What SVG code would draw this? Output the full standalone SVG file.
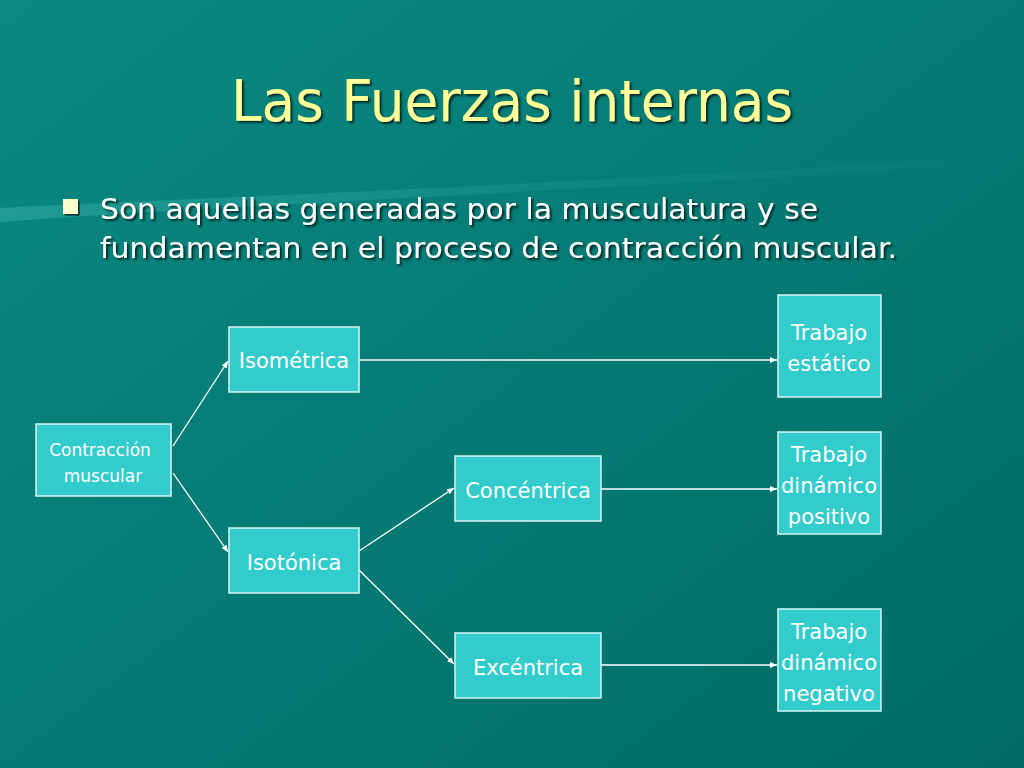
<svg xmlns="http://www.w3.org/2000/svg" width="1024" height="768" viewBox="0 0 1024 768">
<defs>
<linearGradient id="bg" x1="0" y1="0" x2="1" y2="1"><stop offset="0" stop-color="#0a8a82"/><stop offset="1" stop-color="#006b66"/></linearGradient>
<linearGradient id="sw" x1="0" y1="0" x2="1" y2="0"><stop offset="0" stop-color="#2aa59c" stop-opacity="0.7"/><stop offset="0.6" stop-color="#2aa59c" stop-opacity="0.2"/><stop offset="1" stop-color="#2aa59c" stop-opacity="0"/></linearGradient>
<marker id="ah" markerWidth="8" markerHeight="8" refX="7" refY="4" orient="auto" markerUnits="userSpaceOnUse"><path d="M0,1 L7,4 L0,7 z" fill="#fff"/></marker>
<filter id="sh"><feDropShadow dx="2" dy="2" stdDeviation="0.8" flood-color="#000" flood-opacity="0.7"/></filter>
</defs>
<style>
.n rect{fill:#33cccc;stroke:#d8f4f4;stroke-width:1.5}
.n text{font-family:"DejaVu Sans",sans-serif;fill:#fff;text-anchor:middle;font-size:21px}
.c line{stroke:#fff;stroke-width:1.3;marker-end:url(#ah)}
</style>
<rect width="1024" height="768" fill="url(#bg)"/>
<path d="M0,208 C200,198 500,188 1024,155 L1024,162 C500,196 200,206 0,222 z" fill="url(#sw)"/>
<text x="512" y="121" font-family="'DejaVu Sans',sans-serif" font-size="57" fill="#ffff99" text-anchor="middle" filter="url(#sh)" textLength="562" lengthAdjust="spacingAndGlyphs">Las Fuerzas internas</text>
<rect x="63" y="199" width="15" height="15" fill="#ffffcc" filter="url(#sh)"/>
<g font-family="'DejaVu Sans',sans-serif" font-size="28" fill="#fff" filter="url(#sh)">
<text x="100" y="219" textLength="718" lengthAdjust="spacingAndGlyphs">Son aquellas generadas por la musculatura y se</text>
<text x="100" y="258" textLength="797" lengthAdjust="spacingAndGlyphs">fundamentan en el proceso de contracción muscular.</text>
</g>
<g class="c">
<line x1="173" y1="446" x2="228" y2="361"/>
<line x1="173" y1="473" x2="228" y2="552"/>
<line x1="359" y1="360" x2="777" y2="360"/>
<line x1="359" y1="551" x2="454" y2="488"/>
<line x1="359" y1="570" x2="454" y2="664"/>
<line x1="601" y1="489" x2="777" y2="489"/>
<line x1="601" y1="665" x2="777" y2="665"/>
</g>
<g id="contraccion" class="n"><rect x="36" y="424" width="135" height="72"/><text x="100" y="456" style="font-size:17px">Contracción</text><text x="103" y="482" style="font-size:17px">muscular</text></g>
<g id="isometrica" class="n"><rect x="229" y="327" width="130" height="65"/><text x="294" y="368">Isométrica</text></g>
<g id="isotonica" class="n"><rect x="229" y="528" width="130" height="65"/><text x="294" y="570">Isotónica</text></g>
<g id="concentrica" class="n"><rect x="455" y="456" width="146" height="65"/><text x="528" y="498">Concéntrica</text></g>
<g id="excentrica" class="n"><rect x="455" y="633" width="146" height="65"/><text x="528" y="675">Excéntrica</text></g>
<g id="estatico" class="n"><rect x="778" y="295" width="103" height="102"/><text x="829" y="340">Trabajo</text><text x="829" y="371">estático</text></g>
<g id="positivo" class="n"><rect x="778" y="432" width="103" height="102"/><text x="829" y="462">Trabajo</text><text x="829" y="493">dinámico</text><text x="829" y="524">positivo</text></g>
<g id="negativo" class="n"><rect x="778" y="609" width="103" height="102"/><text x="829" y="639">Trabajo</text><text x="829" y="670">dinámico</text><text x="829" y="701">negativo</text></g>
</svg>
